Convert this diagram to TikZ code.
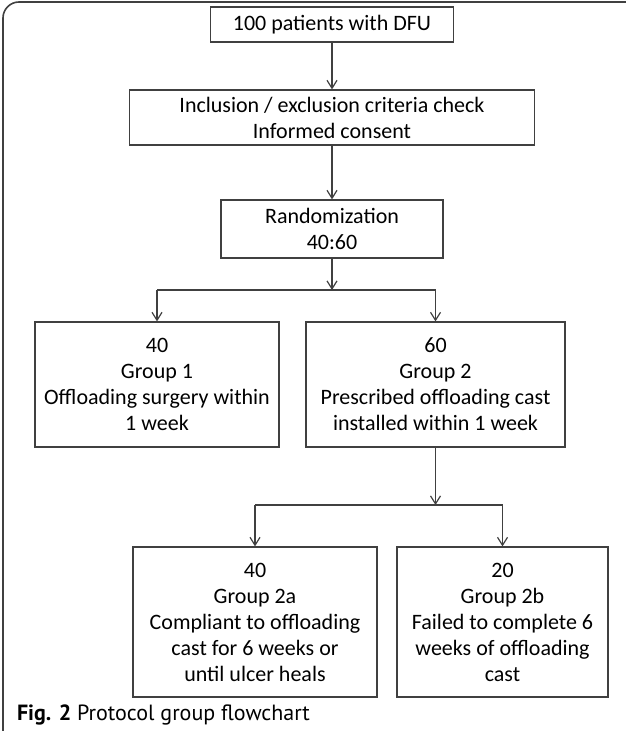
\documentclass[tikz,border=0pt]{standalone}
\usepackage{fontspec}
\setmainfont{Carlito}
\newfontfamily\capfont{PT Sans}
\usetikzlibrary{arrows.meta}
\definecolor{boxline}{HTML}{404040}
\tikzset{
  stagebox/.style={draw=boxline, line width=0.6pt, align=center, inner sep=0pt,
    font=\fontsize{11}{13}\selectfont},
  flow/.style={draw=boxline, line width=0.6pt, -{Straight Barb[length=4pt,width=5pt]}},
  branch/.style={draw=boxline, line width=0.6pt}
}
\begin{document}
\begin{tikzpicture}[x=0.5pt,y=-0.5pt]
      \useasboundingbox (0,0) rectangle (625,731);
      % outer frame
      \draw[boxline, line width=0.8pt, rounded corners=8pt] (3,745) -- (3,2) -- (640,2);
      \node[stagebox, minimum width=121.5pt, minimum height=17.5pt] (patients) at (332,24.5) {100 patients with DFU};
      \node[stagebox, minimum width=202.5pt, minimum height=27.5pt] (check) at (332,117.5) {Inclusion / exclusion criteria check\\Informed consent};
      \node[stagebox, minimum width=111pt, minimum height=29pt] (random) at (332,229) {Randomization\\40:60};
      \node[stagebox, minimum width=122pt, minimum height=62.5pt] (grpone) at (157,384.5) {40\\Group 1\\Offloading surgery within\\1 week};
      \node[stagebox, minimum width=129.5pt, minimum height=62.5pt] (grptwo) at (435.5,384.5) {60\\Group 2\\Prescribed offloading cast\\installed within 1 week};
      \node[stagebox, minimum width=122pt, minimum height=75pt] (grptwoa) at (255,622) {40\\Group 2a\\Compliant to offloading\\cast for 6 weeks or\\until ulcer heals};
      \node[stagebox, minimum width=105.5pt, minimum height=75pt] (grptwob) at (502.5,622) {20\\Group 2b\\Failed to complete 6\\weeks of offloading\\cast};
      \node[anchor=base west, font=\capfont\fontsize{11}{13}\selectfont] (caption) at (10,720) {\textbf{Fig. 2} Protocol group flowchart};
      \draw[flow] (patients) -- (check);
      \draw[flow] (check) -- (random);
      % first split
      \coordinate (splitA) at (332,290);
      \draw[flow] (random) -- (splitA);
      \draw[branch] (grpone.north |- splitA) -- (grptwo.north |- splitA);
      \foreach \g in {grpone,grptwo}{
        \draw[flow] (\g.north |- splitA) -- (\g);
      }
      % second split
      \coordinate (splitB) at (435.5,505);
      \draw[flow] (grptwo) -- (splitB);
      \draw[branch] (grptwoa.north |- splitB) -- (grptwob.north |- splitB);
      \foreach \g in {grptwoa,grptwob}{
        \draw[flow] (\g.north |- splitB) -- (\g);
      }
    \end{tikzpicture}
\end{document}
